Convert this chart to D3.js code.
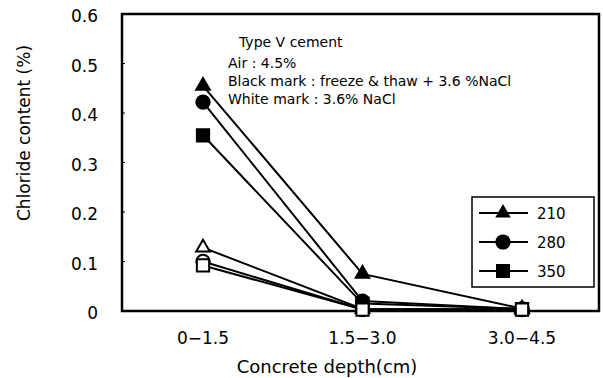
<!DOCTYPE html>
<html>
<head>
<meta charset="utf-8">
<script src="https://cdn.jsdelivr.net/npm/d3@7"></script>
<style>
  body { margin: 0; background: #fff; }
  text { font-family: "DejaVu Sans", sans-serif; fill: #000; }
</style>
</head>
<body>
<script>
// depth categories
let categories = ["0\u22121.5", "1.5\u22123.0", "3.0\u22124.5"];
let yTicks = [0, 0.1, 0.2, 0.3, 0.4, 0.5, 0.6];

// black mark : freeze & thaw + 3.6 %NaCl
let black210 = [0.455, 0.075, 0.005];
let black280 = [0.422, 0.020, 0.004];
let black350 = [0.355, 0.015, 0.004];
// white mark : 3.6% NaCl
let white210 = [0.128, 0.004, 0.003];
let white280 = [0.100, 0.003, 0.003];
let white350 = [0.092, 0.003, 0.003];

let legendNames = ["210", "280", "350"];

let width = 603;
let height = 378;

let svg = d3.select("body").append("svg")
  .attr("width", width)
  .attr("height", height);

let plotL = 122, plotR = 599, plotT = 14, plotB = 311;

let x = d3.scalePoint()
  .domain(categories)
  .range([203, 522]);

let y = d3.scaleLinear()
  .domain([0, 0.6])
  .range([plotB, plotT]);

let shapes = [d3.symbolTriangle, d3.symbolCircle, d3.symbolSquare];
let sizes = [80, 140, 150];

let series = [
  {vals: black210, shape: 0, fill: "#000"},
  {vals: black280, shape: 1, fill: "#000"},
  {vals: black350, shape: 2, fill: "#000"},
  {vals: white210, shape: 0, fill: "#fff"},
  {vals: white280, shape: 1, fill: "#fff"},
  {vals: white350, shape: 2, fill: "#fff"}
];

// y tick labels
svg.append("g")
  .selectAll("text")
  .data(yTicks)
  .enter().append("text")
  .attr("x", 98)
  .attr("y", d => y(d) + 8)
  .attr("text-anchor", "end")
  .attr("font-size", 17)
  .text(d => d === 0 ? "0" : d.toFixed(1));

// small inward ticks
svg.append("g")
  .selectAll("line")
  .data(yTicks.slice(1, -1))
  .enter().append("line")
  .attr("x1", plotL).attr("x2", plotL + 3)
  .attr("y1", d => y(d)).attr("y2", d => y(d))
  .attr("stroke", "#000").attr("stroke-width", 1);

// x labels
svg.append("g")
  .selectAll("text")
  .data(categories)
  .enter().append("text")
  .attr("x", d => x(d))
  .attr("y", 344)
  .attr("text-anchor", "middle")
  .attr("font-size", 17)
  .text(d => d);

svg.append("text")
  .attr("x", 327)
  .attr("y", 373)
  .attr("text-anchor", "middle")
  .attr("font-size", 18)
  .text("Concrete depth(cm)");

svg.append("text")
  .attr("transform", "translate(30,133) rotate(-90)")
  .attr("text-anchor", "middle")
  .attr("font-size", 17)
  .text("Chloride content (%)");

// lines
let line = d3.line()
  .x((d, i) => x(categories[i]))
  .y(d => y(d));

svg.append("g")
  .selectAll("path")
  .data(series)
  .enter().append("path")
  .attr("d", d => line(d.vals))
  .attr("fill", "none")
  .attr("stroke", "#000")
  .attr("stroke-width", 2);

// frame
svg.append("rect")
  .attr("x", plotL).attr("y", plotT)
  .attr("width", plotR - plotL).attr("height", plotB - plotT)
  .attr("fill", "none")
  .attr("stroke", "#000")
  .attr("stroke-width", 2.5);

// markers
series.forEach(s => {
  svg.append("g")
    .selectAll("path")
    .data(s.vals)
    .enter().append("path")
    .attr("transform", (d, i) => "translate(" + x(categories[i]) + "," + y(d) + ")")
    .attr("d", d3.symbol().type(shapes[s.shape]).size(sizes[s.shape]))
    .attr("fill", s.fill)
    .attr("stroke", "#000")
    .attr("stroke-width", 2);
});

// annotation
let notes = [
  {t: "Type V cement", x: 239, y: 47},
  {t: "Air : 4.5%", x: 228, y: 68},
  {t: "Black mark : freeze & thaw + 3.6 %NaCl", x: 228, y: 86},
  {t: "White mark : 3.6% NaCl", x: 228, y: 104}
];
svg.append("g")
  .selectAll("text")
  .data(notes)
  .enter().append("text")
  .attr("x", d => d.x)
  .attr("y", d => d.y)
  .attr("font-size", 14)
  .text(d => d.t);

// legend
let lg = svg.append("g");
lg.append("rect")
  .attr("x", 472).attr("y", 197)
  .attr("width", 122).attr("height", 90)
  .attr("fill", "#fff")
  .attr("stroke", "#000")
  .attr("stroke-width", 1.5);

legendNames.forEach((name, i) => {
  let ly = 213 + i * 29;
  lg.append("line")
    .attr("x1", 479).attr("x2", 528)
    .attr("y1", ly).attr("y2", ly)
    .attr("stroke", "#000").attr("stroke-width", 2);
  lg.append("path")
    .attr("transform", "translate(503," + ly + ")")
    .attr("d", d3.symbol().type(shapes[i]).size(sizes[i] * 1.3))
    .attr("fill", "#000");
  lg.append("text")
    .attr("x", 537)
    .attr("y", ly + 6)
    .attr("font-size", 15)
    .text(name);
});
</script>
</body>
</html>
